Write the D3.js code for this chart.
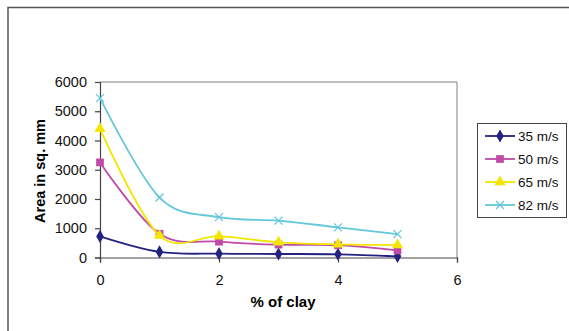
<!DOCTYPE html>
<html>
<head>
<meta charset="utf-8">
<script src="https://cdn.jsdelivr.net/npm/d3@7"></script>
<style>
  body { margin: 0; background: #fff; }
  svg { display: block; }
</style>
</head>
<body>
<div id="chart"></div>
<script>
var svgwidth = 569;
var svgheight = 331;

// data
var clay = [0, 1, 2, 3, 4, 5];
var s35 = [720, 190, 130, 120, 110, 40];
var s50 = [3250, 810, 540, 440, 420, 240];
var s65 = [4400, 750, 730, 520, 450, 430];
var s82 = [5450, 2050, 1380, 1260, 1030, 800];
var seriesNames = ["35 m/s", "50 m/s", "65 m/s", "82 m/s"];
var xTicks = [0, 2, 4, 6];
var yTicks = [0, 1000, 2000, 3000, 4000, 5000, 6000];

var colors = ["#23237f", "#bf4aa8", "#f4e600", "#63c8dc"];
var markers = [d3.symbolDiamond, d3.symbolSquare, d3.symbolTriangle, "x"];
var allSeries = [s35, s50, s65, s82];

var svg = d3.select("#chart")
    .append("svg")
    .attr("width", svgwidth)
    .attr("height", svgheight)
    .style("font-family", "Liberation Sans, Arial, sans-serif");

// outer chart frame
svg.append("rect")
    .attr("x", 8).attr("y", 7.5)
    .attr("width", 600).attr("height", 400)
    .attr("fill", "none")
    .attr("stroke", "#555")
    .attr("stroke-width", 1.5);

var xscale = d3.scaleLinear().domain([0, 6]).range([100, 457]);
var yscale = d3.scaleLinear().domain([0, 6000]).range([257.5, 82]);

// plot area frame (top & right)
svg.append("path")
    .attr("d", "M" + xscale(0) + "," + yscale(6000) + "H" + xscale(6) + "V" + yscale(0))
    .attr("fill", "none")
    .attr("stroke", "#808080")
    .attr("stroke-width", 1);

var xaxis = d3.axisBottom(xscale).tickValues(xTicks).tickSize(5).tickPadding(12).tickFormat(d3.format("d"));
var yaxis = d3.axisLeft(yscale).tickValues(yTicks).tickSize(5).tickPadding(8).tickFormat(d3.format("d"));

var gx = svg.append("g")
    .attr("transform", "translate(0," + yscale(0) + ")")
    .call(xaxis);
var gy = svg.append("g")
    .attr("transform", "translate(" + xscale(0) + ",0)")
    .call(yaxis);

[gx, gy].forEach(function(g) {
    g.select(".domain").attr("stroke", "#444").attr("stroke-width", 1.2);
    g.selectAll(".tick line").attr("stroke", "#444").attr("stroke-width", 1.2);
    g.selectAll(".tick text")
        .attr("fill", "#111")
        .style("font-size", "14.5px")
        .style("font-family", "Liberation Sans, Arial, sans-serif");
});

// axis titles
svg.append("text")
    .attr("x", 283).attr("y", 307)
    .attr("text-anchor", "middle")
    .style("font-size", "15px")
    .style("font-weight", "bold")
    .text("% of clay");

svg.append("text")
    .attr("transform", "translate(45,171) rotate(-90)")
    .attr("text-anchor", "middle")
    .style("font-size", "14.5px")
    .style("font-weight", "bold")
    .text("Area in sq. mm");

var line = d3.line()
    .x(function(d, i) { return xscale(clay[i]); })
    .y(function(d) { return yscale(d); })
    .curve(d3.curveCardinal.tension(0));

function drawMarker(g, type, color, x, y) {
    if (type === "x") {
        g.append("path")
            .attr("d", "M" + (x - 4) + "," + (y - 4) + "L" + (x + 4) + "," + (y + 4) +
                       "M" + (x - 4) + "," + (y + 4) + "L" + (x + 4) + "," + (y - 4))
            .attr("stroke", color)
            .attr("stroke-width", 1.3)
            .attr("fill", "none");
    } else {
        var size = type === d3.symbolSquare ? 60 : (type === d3.symbolTriangle ? 55 : 50);
        g.append("path")
            .attr("d", d3.symbol().type(type).size(size)())
            .attr("transform", "translate(" + x + "," + y + ")")
            .attr("fill", color);
    }
}

allSeries.forEach(function(s, k) {
    var g = svg.append("g");
    g.append("path")
        .attr("d", line(s))
        .attr("fill", "none")
        .attr("stroke", colors[k])
        .attr("stroke-width", 1.8);
    s.forEach(function(v, i) {
        drawMarker(g, markers[k], colors[k], xscale(clay[i]), yscale(v));
    });
});

// legend
var legend = svg.append("g");
legend.append("rect")
    .attr("x", 477.5).attr("y", 123.5)
    .attr("width", 89).attr("height", 94)
    .attr("fill", "#fff")
    .attr("stroke", "#444")
    .attr("stroke-width", 1);

seriesNames.forEach(function(name, k) {
    var y = 136 + k * 23;
    legend.append("line")
        .attr("x1", 485).attr("x2", 515)
        .attr("y1", y).attr("y2", y)
        .attr("stroke", colors[k])
        .attr("stroke-width", 1.8);
    drawMarker(legend, markers[k], colors[k], 500, y);
    legend.append("text")
        .attr("x", 518).attr("y", y + 5)
        .style("font-size", "13.5px")
        .attr("fill", "#111")
        .text(name);
});
</script>
</body>
</html>
